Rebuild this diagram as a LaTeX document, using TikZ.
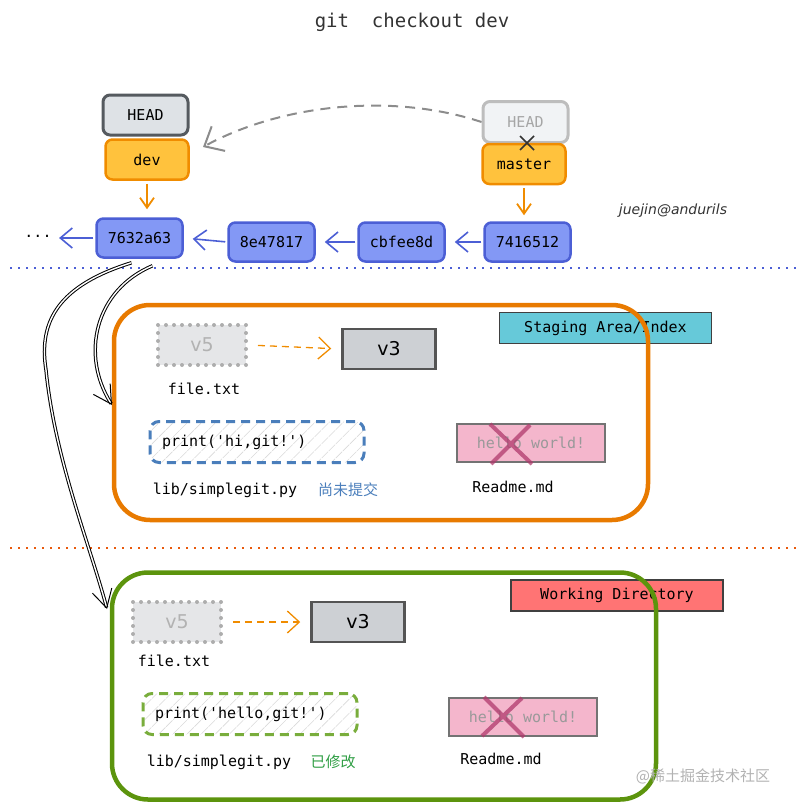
\documentclass[tikz,border=0pt]{standalone}
\usepackage{fontspec}
\setmainfont{DejaVu Sans}
\setmonofont{DejaVu Sans Mono}
\newfontfamily\cjk{Noto Sans CJK SC}
\usetikzlibrary{arrows.meta,patterns.meta}

\definecolor{headfill}{HTML}{DEE2E6}
\definecolor{headline}{HTML}{555A5F}
\definecolor{oldfill}{HTML}{F1F3F5}
\definecolor{oldline}{HTML}{BDBDBD}
\definecolor{branchfill}{HTML}{FFC23D}
\definecolor{branchline}{HTML}{F08C00}
\definecolor{commitfill}{HTML}{8398F5}
\definecolor{commitline}{HTML}{4C5FD5}
\definecolor{stageorange}{HTML}{E87A00}
\definecolor{dotorange}{HTML}{E8590C}
\definecolor{workgreen}{HTML}{5C940D}
\definecolor{labelcyan}{HTML}{66C9D9}
\definecolor{labelred}{HTML}{FF7474}
\definecolor{codeblue}{HTML}{4A7EBB}
\definecolor{codegreen}{HTML}{79AD3C}
\definecolor{notegreen}{HTML}{2F9E44}
\definecolor{pinkfill}{HTML}{F4B6CC}
\definecolor{crossred}{HTML}{B0396C}
\definecolor{v5fill}{HTML}{E5E6E8}
\definecolor{v3fill}{HTML}{CDD0D4}
\definecolor{inkgray}{HTML}{333333}

\newcommand\codefont{\ttfamily\fontsize{15}{18}\selectfont}

\begin{document}
\begin{tikzpicture}[x=1pt, y=-1pt,
  headbox/.style={draw=headline, fill=headfill, line width=3pt, rounded corners=7pt,
    minimum width=85pt, minimum height=40pt, font=\codefont},
  oldhead/.style={draw=oldline, fill=oldfill, text=black!35, line width=3pt, rounded corners=7pt,
    minimum width=85pt, minimum height=41pt, font=\codefont},
  branchbox/.style={draw=branchline, fill=branchfill, line width=2.5pt, rounded corners=7pt,
    minimum width=83pt, minimum height=40pt, font=\codefont},
  commitbox/.style={draw=commitline, fill=commitfill, line width=2.5pt, rounded corners=7pt,
    minimum width=86pt, minimum height=39pt, font=\codefont},
  branchto/.style={draw=branchline, line width=1.8pt, -{Straight Barb[length=10pt,width=14pt]}},
  committo/.style={draw=commitline, line width=1.6pt, -{Straight Barb[length=12pt,width=20pt]},
    shorten >=9pt, shorten <=2pt},
  area/.style={draw=#1, line width=4.5pt, rounded corners=36pt},
  tagbox/.style={draw=black!75, line width=1.3pt, minimum width=212pt, minimum height=31pt, font=\codefont},
  oldver/.style={draw=black!32, fill=v5fill, text=black!30, line width=4pt,
    dash pattern=on 0pt off 8pt, line cap=round, minimum width=88pt, minimum height=40pt,
    font=\fontsize{19}{22}\selectfont},
  newver/.style={draw=black!67, fill=v3fill, line width=2.5pt, minimum width=93pt,
    minimum height=40pt, font=\fontsize{19}{22}\selectfont},
  verto/.style={draw=branchline, line width=1.3pt, dash pattern=on 7pt off 5pt,
    -{Straight Barb[length=12pt,width=22pt]}, shorten <=10pt, shorten >=10pt},
  codebox/.style={draw=#1, line width=3pt, dash pattern=on 9pt off 6pt, rounded corners=9pt,
    pattern={Lines[angle=45,distance=10pt,line width=0.6pt]}, pattern color=black!15,
    text width=190pt, inner xsep=12pt, minimum height=41pt, align=left, font=\codefont},
  deleted/.style={draw=black!55, fill=pinkfill, text=black!40, line width=1.5pt,
    minimum width=148pt, minimum height=38pt, font=\codefont},
  crossline/.style={draw=crossred, line width=4pt, opacity=0.75},
  filename/.style={font=\codefont},
  note/.style={font=\cjk\fontsize{15}{18}\selectfont},
  checkout/.style={draw=black, double=white, double distance=1.4pt, line width=1pt,
    -{Straight Barb[length=18pt,width=20pt]}}]
\useasboundingbox (0,0) rectangle (804,808);

% title
\node[font=\ttfamily\fontsize{19}{22}\selectfont, text=inkgray] (title) at (412,22) {git~~checkout dev};

% refs and commits
\node[headbox] (headnew) at (145.5,115) {HEAD};
\node[branchbox] (dev) at (147,159.5) {dev};
\node[oldhead] (headold) at (525.5,122) {HEAD};
\node[branchbox] (master) at (524,164) {master};
\draw[line width=1.5pt, black!80] (520,136) -- (534,150) (534,136) -- (520,150);

\node[commitbox] (c7632) at (139.5,238) {7632a63};
\node[commitbox] (c8e47) at (271.5,242) {8e47817};
\node[commitbox] (ccbfe) at (401.5,242) {cbfee8d};
\node[commitbox] (c7416) at (527.5,242) {7416512};
\node[font=\codefont] (more) at (38,236) {...};

\draw[branchto, shorten <=3pt, shorten >=8pt] (dev.south) -- (dev.south |- c7632.north);
\draw[branchto, shorten <=3pt, shorten >=6pt] (master.south) -- (master.south |- c7416.north);
\draw[committo] (c8e47.west) -- (c7632.east);
\draw[committo] (ccbfe.west) -- (c8e47.east);
\draw[committo] (c7416.west) -- (ccbfe.east);
\draw[committo, shorten >=4pt] (c7632.west) -- (more.east |- c7632.west);

\coordinate (devtip) at (203,147);
\draw[draw=black!45, line width=2pt, dash pattern=on 10pt off 7pt,
  -{Straight Barb[length=16pt,width=28pt]}] (headold.west) .. controls (390,92) and (280,105) .. (devtip);

\node[font=\itshape\fontsize{14}{16}\selectfont, text=inkgray] (sign) at (673,211) {juejin@andurils};

\draw[draw=commitline, line width=2.2pt, dash pattern=on 2.2pt off 5.8pt] (10,268) -- (796,268);

% staging area
\node[tagbox, fill=labelcyan] (stagetag) at (605.5,328) {Staging Area/Index};
\node[area=stageorange, minimum width=534pt, minimum height=215pt] (staging) at (381,412.5) {};
\node[oldver] (sv5) at (202,345) {v5};
\node[newver] (sv3) at (389,349) {v3};
\draw[verto] (sv5.east) -- (sv3.west);
\node[filename] (sfile) at (204,389) {file.txt};
\node[codebox=codeblue] (scode) at (257,442) {print('hi,git!')};
\node[filename] (spath) at (225,490) {lib/simplegit.py};
\node[note, text=codeblue] (snote) at (348,490) {尚未提交};
\node[deleted] (sreadme) at (531,443) {hello world!};
\draw[crossline] (490,424) -- (532,464) (530,425) -- (491,464);
\node[filename] (sreadmename) at (513,487) {Readme.md};

\draw[draw=dotorange, line width=2pt, dash pattern=on 2pt off 6pt] (10,548) -- (796,548);

% working directory
\node[tagbox, fill=labelred] (worktag) at (617,595.5) {Working Directory};
\node[area=workgreen, minimum width=544pt, minimum height=227pt] (working) at (384,686) {};
\node[oldver] (wv5) at (177,622) {v5};
\node[newver] (wv3) at (358,622) {v3};
\draw[verto] (wv5.east) -- (wv3.west);
\node[filename] (wfile) at (174,661) {file.txt};
\node[codebox=codegreen] (wcode) at (250,714) {print('hello,git!')};
\node[filename] (wpath) at (219,762) {lib/simplegit.py};
\node[note, text=notegreen] (wnote) at (333,762) {已修改};
\node[deleted] (wreadme) at (523,717) {hello world!};
\draw[crossline] (484,697) -- (524,737) (522,698) -- (482,736);
\node[filename] (wreadmename) at (501,759) {Readme.md};

% checkout arrows
\coordinate (stagein) at (112,405);
\coordinate (workin) at (107,609);
\draw[checkout] ([shift={(13pt,-7pt)}]c7632.south) .. controls (95,290) and (80,355) .. (stagein);
\draw[checkout] ([shift={(-8pt,-4pt)}]c7632.south) .. controls (60,285) and (38,320) .. (46,370)
  .. controls (55,460) and (90,545) .. (workin);

\node[note, text=black!30] (mark) at (703,776) {@稀土掘金技术社区};
\end{tikzpicture}
\end{document}
